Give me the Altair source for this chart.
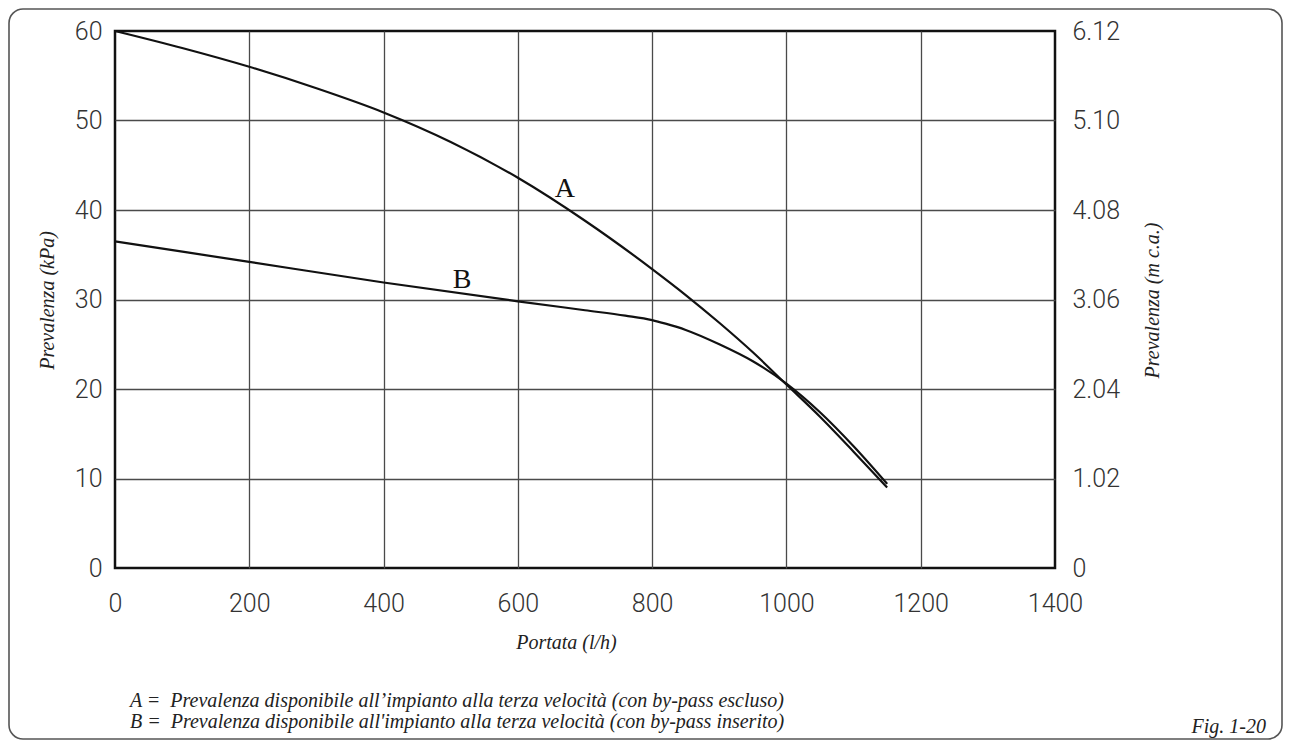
import altair as alt
import pandas as pd

# ---- data ----
flow_a = [0, 100, 200, 300, 400, 500, 600, 700, 800, 850, 900, 950, 1000, 1050, 1100, 1150]
head_a = [60.0, 58.1, 56.0, 53.6, 50.9, 47.6, 43.6, 38.8, 33.4, 30.5, 27.4, 24.1, 20.5, 16.9, 13.0, 9.0]
flow_b = [0, 200, 400, 600, 700, 760, 800, 820, 850, 900, 950, 1000, 1050, 1100, 1150]
head_b = [36.5, 34.2, 31.9, 29.8, 28.8, 28.2, 27.7, 27.3, 26.6, 25.0, 23.1, 20.6, 17.4, 13.6, 9.4]

curve_names = ["A", "B"]
curve_label_x = [670, 517]
curve_label_y = [41.4, 31.3]

x_ticks = [0, 200, 400, 600, 800, 1000, 1200, 1400]
y_ticks = [0, 10, 20, 30, 40, 50, 60]
mca_per_kpa = 0.102

x_title = "Portata (l/h)"
y_title_left = "Prevalenza (kPa)"
y_title_right = "Prevalenza (m c.a.)"
legend_lines = [
    "A =\u2002Prevalenza disponibile all\u2019impianto alla terza velocit\u00e0 (con by-pass escluso)",
    "B =\u2002Prevalenza disponibile all'impianto alla terza velocit\u00e0 (con by-pass inserito)",
]
fig_label = "Fig. 1-20"

# ---- tables ----
df = pd.concat([
    pd.DataFrame({"flow": flow_a, "head": head_a, "curve": "A"}),
    pd.DataFrame({"flow": flow_b, "head": head_b, "curve": "B"}),
], ignore_index=True)
lab = pd.DataFrame({"flow": curve_label_x, "head": curve_label_y, "curve": curve_names})

W, H = 940, 537
SERIF = "Liberation Serif"
SANS = "Roboto"

x_enc = alt.X(
    "flow:Q",
    scale=alt.Scale(domain=[0, 1400], nice=False, zero=False),
    axis=alt.Axis(
        values=x_ticks, title=x_title, ticks=False, domain=False, format="d",
        labelPadding=23, labelFlush=False, labelOverlap=False,
        grid=True,
        gridOpacity={"condition": {"test": "datum.value == 0 || datum.value == 1400", "value": 0}, "value": 1},
        titleX=451, titleY=74, titleBaseline="middle", titleAlign="center",
    ),
)
y_scale = alt.Scale(domain=[0, 60], nice=False, zero=False)

lines = alt.Chart(df).mark_line(
    color="#111", strokeWidth=2.2, interpolate="monotone"
).encode(
    x=x_enc,
    y=alt.Y(
        "head:Q", scale=y_scale,
        axis=alt.Axis(
            values=y_ticks, title=y_title_left, orient="left", ticks=False, domain=False,
            labelPadding=13, grid=True, format="d",
            gridOpacity={"condition": {"test": "datum.value == 0 || datum.value == 60", "value": 0}, "value": 1},
            titleAngle=270, titleX=-68, titleY=269, titleBaseline="middle", titleAlign="center",
        ),
    ),
    detail="curve:N",
)

right_axis = alt.Chart(df).mark_line(opacity=0).encode(
    x=x_enc,
    y=alt.Y(
        "head:Q", scale=y_scale,
        axis=alt.Axis(
            values=y_ticks, title=y_title_right, orient="right", ticks=False, domain=False,
            labelPadding=17, grid=False,
            labelExpr=f"datum.value == 0 ? '0' : format(datum.value * {mca_per_kpa}, '.2f')",
            titleAngle=270, titleX=97, titleY=269, titleBaseline="middle", titleAlign="center",
        ),
    ),
    detail="curve:N",
)

labels = alt.Chart(lab).mark_text(
    font=SERIF, fontSize=28, color="#111", baseline="alphabetic", align="center"
).encode(
    x=x_enc,
    y=alt.Y("head:Q", scale=y_scale, axis=None),
    text="curve:N",
)

note_df = pd.DataFrame({"t": [0]})
note_style = dict(font=SERIF, fontStyle="italic", fontSize=20, color="#222", baseline="alphabetic")
note_a = alt.Chart(note_df).mark_text(align="left", **note_style).encode(
    x=alt.value(15), y=alt.value(676), text=alt.value(legend_lines[0]))
note_b = alt.Chart(note_df).mark_text(align="left", **note_style).encode(
    x=alt.value(15), y=alt.value(697), text=alt.value(legend_lines[1]))
note_fig = alt.Chart(note_df).mark_text(align="right", **note_style).encode(
    x=alt.value(1151), y=alt.value(702), text=alt.value(fig_label))

frame = alt.Chart(note_df).mark_rect(
    fillOpacity=0, stroke="#555", strokeWidth=1.6, cornerRadius=14
).encode(x=alt.value(-106), x2=alt.value(1167), y=alt.value(-22), y2=alt.value(708))

chart = alt.layer(
    lines, right_axis, labels, note_a, note_b, note_fig, frame
).resolve_scale(
    y="independent"
).properties(
    width=W, height=H,
    autosize=alt.AutoSizeParams(type="none"),
    padding={"left": 107, "top": 23, "right": 228, "bottom": 172},
    background="white",
).configure_view(
    stroke="#111", strokeWidth=2.5
).configure_axis(
    labelFont=SANS, labelFontSize=25, labelFontWeight=300, labelColor="#333",
    titleFont=SERIF, titleFontStyle="italic", titleFontWeight="normal",
    titleFontSize=20, titleColor="#222",
    gridColor="#4a4a4a", gridWidth=1.3,
)

chart.save("out.html", embed_options={"renderer": "svg", "actions": False})
